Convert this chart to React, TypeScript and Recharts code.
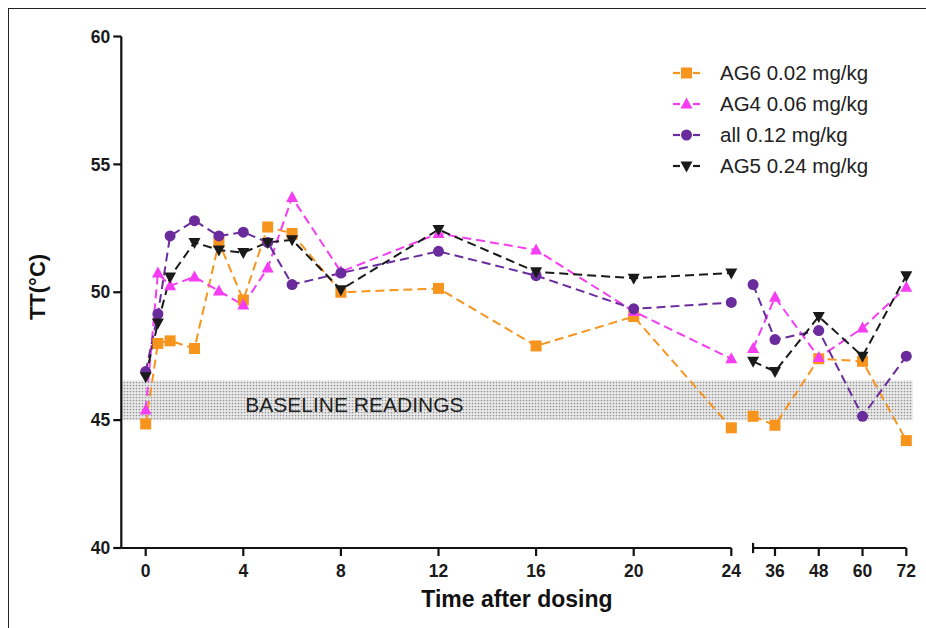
import React from 'react';
import { LineChart, Line, XAxis, YAxis, ReferenceArea, ReferenceLine, Legend, Label } from 'recharts';

const FONT = '"Liberation Sans", Arial, Helvetica, sans-serif';

// Sampling times (hours after dosing)
const times = [0, 0.5, 1, 2, 3, 4, 5, 6, 8, 12, 16, 20, 24, 30, 36, 48, 60, 72];

// Series values (TT, °C)
const ag6 = [44.85, 48.0, 48.1, 47.8, 51.95, 49.7, 52.55, 52.3, 50.0, 50.15, 47.9, 49.05, 44.7, 45.15, 44.8, 47.4, 47.3, 44.2];
const ag4 = [45.4, 50.75, 50.25, 50.6, 50.05, 49.5, 50.95, 53.7, 50.8, 52.3, 51.65, 49.25, 47.4, 47.8, 49.8, 47.45, 48.6, 50.2];
const all = [46.9, 49.15, 52.2, 52.8, 52.2, 52.35, 51.95, 50.3, 50.75, 51.6, 50.65, 49.35, 49.6, 50.3, 48.15, 48.5, 45.15, 47.5];
const ag5 = [46.7, 48.8, 50.6, 51.95, 51.65, 51.55, 51.95, 52.05, 50.1, 52.45, 50.8, 50.55, 50.75, 47.3, 46.9, 49.05, 47.5, 50.65];

// Axis ticks
const xTickHours = [0, 4, 8, 12, 16, 20, 24, 36, 48, 60, 72];
const xTickLabels = ['0', '4', '8', '12', '16', '20', '24', '36', '48', '60', '72'];
const yTicks = [40, 45, 50, 55, 60];

// Baseline band
const baselineLow = 45;
const baselineHigh = 46.55;

// Broken time axis: 0–24 h on a wide scale, 30–72 h compressed after a gap
const BREAK_AT = 24;
const SEG2_START = 30;
const GAP_UNITS = 0.893;
const SEG2_SCALE = 0.1495;
const toAxis = (t: number) => (t <= BREAK_AT ? t : BREAK_AT + GAP_UNITS + (t - SEG2_START) * SEG2_SCALE);
const X_MIN = -1;
const X_MAX = 31.43;

const SERIES = [
  { key: 'ag6', name: 'AG6 0.02 mg/kg', color: '#F7941D', shape: 'square', values: ag6 },
  { key: 'ag4', name: 'AG4 0.06 mg/kg', color: '#F53DF2', shape: 'triangle', values: ag4 },
  { key: 'all', name: 'all 0.12 mg/kg', color: '#6A2C9C', shape: 'circle', values: all },
  { key: 'ag5', name: 'AG5 0.24 mg/kg', color: '#1a1a1a', shape: 'triangleDown', values: ag5 },
];

const data: any[] = [];
times.forEach((t, i) => {
  const row: any = { u: toAxis(t), t };
  SERIES.forEach((s) => (row[s.key] = s.values[i]));
  data.push(row);
  if (t === BREAK_AT) {
    const gap: any = { u: BREAK_AT + GAP_UNITS / 2, t: null };
    SERIES.forEach((s) => (gap[s.key] = null));
    data.push(gap);
  }
});
const xTicks = xTickHours.map(toAxis);

function Marker({ shape, cx, cy, color }: { shape: string; cx: number; cy: number; color: string }) {
  if (shape === 'square') return <rect x={cx - 5.5} y={cy - 5.5} width={11} height={11} fill={color} />;
  if (shape === 'circle') return <circle cx={cx} cy={cy} r={5.5} fill={color} />;
  if (shape === 'triangle')
    return <polygon points={`${cx},${cy - 6.5} ${cx - 6},${cy + 4.5} ${cx + 6},${cy + 4.5}`} fill={color} />;
  return <polygon points={`${cx - 6},${cy - 4.5} ${cx + 6},${cy - 4.5} ${cx},${cy + 6.5}`} fill={color} />;
}

const makeDot = (shape: string, color: string) => (props: any) => {
  const { cx, cy, index } = props;
  if (cx == null || cy == null || props.value == null) return <g key={`d-${shape}-${index}`} />;
  return (
    <g key={`d-${shape}-${index}`}>
      <Marker shape={shape} cx={cx} cy={cy} color={color} />
    </g>
  );
};

const LegendContent = () => (
  <div style={{ fontFamily: FONT, fontSize: 20.5, color: '#222' }}>
    {SERIES.map((s) => (
      <div key={s.key} style={{ display: 'flex', alignItems: 'center', height: 31 }}>
        <svg width={47} height={20} style={{ flex: '0 0 auto' }}>
          <line x1={0} x2={7} y1={10} y2={10} stroke={s.color} strokeWidth={2.2} />
          <line x1={20} x2={27} y1={10} y2={10} stroke={s.color} strokeWidth={2.2} />
          <Marker shape={s.shape} cx={13.5} cy={10} color={s.color} />
        </svg>
        <span style={{ whiteSpace: 'nowrap' }}>{s.name}</span>
      </div>
    ))}
  </div>
);

const XTitle = (props: any) => {
  const vb = props.viewBox || {};
  return (
    <text x={vb.x + vb.width / 2} y={vb.y + 59} textAnchor="middle" fontFamily={FONT} fontSize={23} fontWeight="bold" fill="#111">
      Time after dosing
    </text>
  );
};

const YTitle = (props: any) => {
  const vb = props.viewBox || {};
  const x = vb.x - 16;
  const y = 287;
  return (
    <text x={x} y={y} transform={`rotate(-90 ${x} ${y})`} textAnchor="middle" fontFamily={FONT} fontSize={22} fontWeight="bold" fill="#111">
      TT(°C)
    </text>
  );
};

const BandLabel = (props: any) => {
  const vb = props.viewBox || {};
  return (
    <text x={vb.x + 124} y={vb.y + vb.height - 8.5} fontFamily={FONT} fontSize={21} fill="#222">
      BASELINE READINGS
    </text>
  );
};

const tickStyle = { fill: '#1a1a1a', fontSize: 17.5, fontWeight: 'bold' as const, fontFamily: FONT };
const AXIS = '#111';

export default function App() {
  return (
    <div style={{ position: 'absolute', left: 0, top: 0, width: 926, height: 628, overflow: 'hidden', background: '#fff' }}>
      <div
        style={{
          position: 'absolute',
          left: 8,
          top: 8,
          width: 1000,
          height: 1000,
          borderTop: '1.5px solid #222',
          borderLeft: '1.5px solid #222',
        }}
      />
      <div style={{ position: 'absolute', left: 0, top: 0 }}>
        <LineChart width={926} height={628} data={data} margin={{ top: 36.5, right: 13.4, bottom: 30, left: 61.3 }}>
          <defs>
            <pattern id="dotsPattern" width="3" height="3" patternUnits="userSpaceOnUse">
              <rect width="3" height="3" fill="#eaeaea" />
              <circle cx="1.5" cy="1.5" r="0.85" fill="#949494" />
            </pattern>
          </defs>
          <XAxis
            type="number"
            dataKey="u"
            domain={[X_MIN, X_MAX]}
            ticks={xTicks}
            interval={0}
            allowDataOverflow
            axisLine={false}
            tickLine={{ stroke: AXIS, strokeWidth: 2.2 }}
            tickSize={8}
            tickMargin={9}
            height={50}
            tick={tickStyle}
            tickFormatter={(v: number) => {
              const i = xTicks.findIndex((x) => Math.abs(x - v) < 1e-6);
              return i >= 0 ? xTickLabels[i] : '';
            }}
          >
            <Label content={<XTitle />} />
          </XAxis>
          <YAxis
            type="number"
            domain={[40, 60]}
            ticks={yTicks}
            interval={0}
            width={60}
            axisLine={{ stroke: AXIS, strokeWidth: 2.2 }}
            tickLine={{ stroke: AXIS, strokeWidth: 2.2 }}
            tickSize={8}
            tickMargin={3}
            tick={tickStyle}
          >
            <Label content={<YTitle />} />
          </YAxis>
          <ReferenceArea
            x1={X_MIN}
            x2={X_MAX}
            y1={baselineLow}
            y2={baselineHigh}
            fill="url(#dotsPattern)"
            fillOpacity={1}
            stroke="none"
            ifOverflow="visible"
            label={<BandLabel />}
          />
          <ReferenceLine segment={[{ x: X_MIN, y: 40 }, { x: BREAK_AT, y: 40 }]} stroke={AXIS} strokeWidth={2.2} ifOverflow="visible" />
          <ReferenceLine segment={[{ x: toAxis(SEG2_START), y: 40 }, { x: toAxis(72), y: 40 }]} stroke={AXIS} strokeWidth={2.2} ifOverflow="visible" />
          <ReferenceLine segment={[{ x: toAxis(SEG2_START), y: 39.8 }, { x: toAxis(SEG2_START), y: 40.2 }]} stroke={AXIS} strokeWidth={2.2} ifOverflow="visible" />
          {SERIES.map((s) => (
            <Line
              key={s.key}
              type="linear"
              dataKey={s.key}
              name={s.name}
              stroke={s.color}
              strokeWidth={2}
              strokeDasharray="9 5"
              dot={makeDot(s.shape, s.color)}
              activeDot={false}
              connectNulls={false}
              isAnimationActive={false}
            />
          ))}
          <Legend
            layout="vertical"
            align="center"
            verticalAlign="middle"
            content={<LegendContent />}
            wrapperStyle={{ left: 673, top: 57, width: 240, height: 124 }}
          />
        </LineChart>
      </div>
    </div>
  );
}
